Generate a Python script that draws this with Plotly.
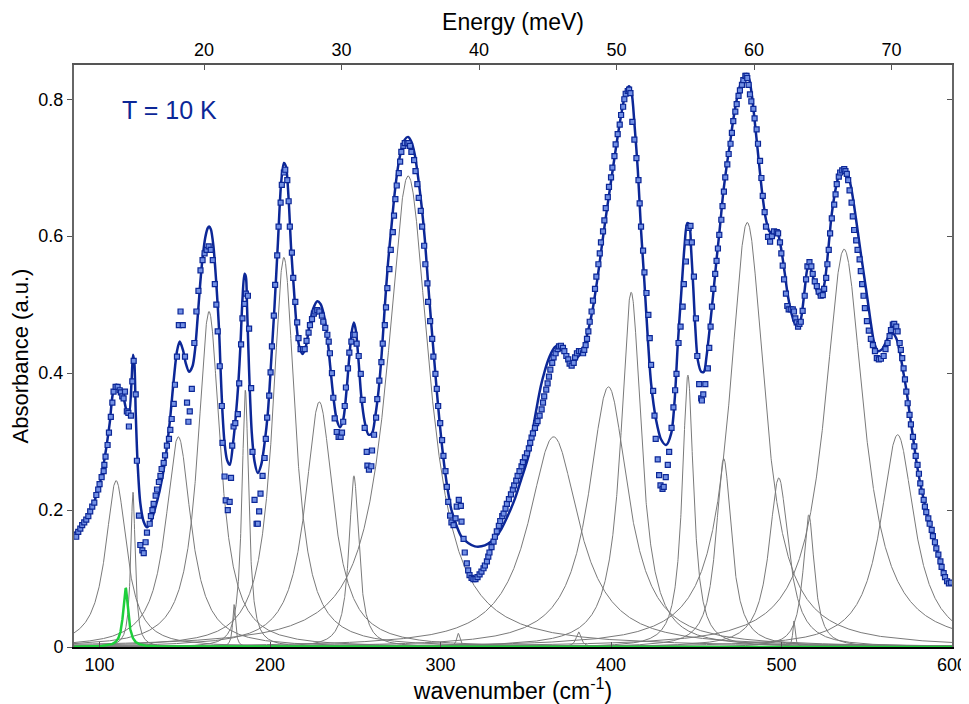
import numpy as np
import plotly.graph_objects as go

MEV_TO_CM = 8.0655

# ---- Lorentz components: centre (cm-1), height, half width (cm-1)
comp_center = [109.7, 119.6, 146.2, 164.2, 178.9, 185.5, 208.1, 228.9, 249.2, 281.0, 310.4,
               366.3, 381.0, 398.5, 411.8, 445.1, 466.1, 479.9, 498.4, 507.3, 516.0, 536.7, 568.1]
comp_height = [0.243, 0.226, 0.307, 0.490, 0.062, 0.375, 0.569, 0.358, 0.250, 0.688, 0.020,
               0.307, 0.022, 0.380, 0.518, 0.397, 0.275, 0.620, 0.247, 0.038, 0.193, 0.581, 0.310]
comp_hwhm = [7.5, 1.6, 9.0, 8.0, 1.0, 2.4, 8.0, 10.0, 3.5, 15.0, 1.2,
             18.0, 1.8, 14.0, 7.3, 4.0, 5.5, 12.5, 7.0, 0.8, 4.0, 14.0, 12.0]
green_center, green_height, green_hwhm = 115.3, 0.086, 1.8

# ---- fit curve
fit_x = [85.0, 88.0, 91.0, 94.0, 97.0, 100.0, 102.0, 104.0, 106.0, 107.8, 109.8, 111.8, 113.7, 115.7,
         117.2, 118.8, 119.6, 120.4, 121.2, 122.3, 123.9, 125.9, 127.8, 129.8, 132.3, 135.3, 138.2,
         141.1, 143.5, 145.4, 147.0, 148.9, 150.5, 152.5, 154.5, 156.0, 157.5, 159.0, 160.5, 162.0,
         163.5, 164.3, 165.3, 166.8, 168.5, 170.1, 170.9, 172.1, 173.3, 174.8, 176.4, 178.3, 179.9,
         181.4, 182.6, 183.8, 185.0, 185.8, 186.5, 187.3, 188.1, 189.3, 190.9, 192.8, 194.8, 196.8,
         198.7, 200.6, 202.6, 204.6, 206.5, 208.1, 209.3, 210.8, 212.4, 214.0, 215.6, 217.1, 219.1,
         221.0, 223.0, 225.3, 227.7, 229.6, 231.6, 233.6, 235.1, 237.1, 239.1, 241.0, 242.9, 244.9,
         246.5, 248.1, 249.2, 250.4, 252.0, 253.5, 255.5, 257.8, 259.8, 261.7, 263.7, 265.5, 267.3,
         269.2, 271.2, 273.1, 275.1, 277.0, 279.0, 281.0, 282.9, 284.9, 286.8, 288.8, 290.8, 292.7,
         294.7, 296.6, 298.6, 300.5, 302.5, 304.5, 306.4, 309.4, 312.3, 316.2, 320.1, 324.0, 328.0,
         331.9, 335.8, 339.7, 343.7, 347.6, 351.5, 353.0, 355.0, 357.0, 359.0, 361.0, 363.0, 365.0,
         367.0, 369.7, 372.6, 375.5, 377.5, 380.4, 383.4, 386.3, 389.2, 392.2, 395.1, 398.1, 401.0,
         403.9, 406.9, 408.8, 410.6, 412.1, 413.7, 415.7, 417.6, 419.6, 421.5, 423.5, 426.4, 429.4,
         432.3, 435.3, 437.3, 439.2, 441.2, 443.1, 444.7, 445.9, 447.0, 448.2, 449.4, 450.9, 452.9,
         454.5, 456.0, 458.0, 460.0, 461.9, 463.9, 465.8, 467.8, 469.8, 471.7, 473.7, 475.6, 477.6,
         479.5, 481.1, 482.7, 484.2, 485.8, 487.4, 488.9, 490.9, 492.9, 494.8, 496.8, 498.3, 499.9,
         501.9, 503.8, 505.8, 507.7, 510.1, 511.7, 513.6, 515.2, 516.4, 517.9, 519.9, 521.8, 523.4,
         525.4, 527.4, 529.3, 531.3, 533.2, 535.2, 536.8, 538.7, 540.7, 542.6, 544.6, 546.5, 548.5,
         550.5, 552.4, 554.4, 556.7, 559.1, 561.0, 563.0, 565.3, 567.3, 569.3, 571.2, 573.2, 575.1,
         577.1, 579.0, 581.0, 583.0, 584.9, 586.9, 588.8, 590.8, 592.8, 594.7, 596.7, 598.6, 600.0]
fit_y = [0.166, 0.172, 0.181, 0.195, 0.213, 0.237, 0.262, 0.292, 0.328, 0.370, 0.383, 0.377, 0.368, 0.346,
         0.339, 0.390, 0.427, 0.415, 0.342, 0.269, 0.210, 0.183, 0.175, 0.181, 0.200, 0.229, 0.268,
         0.327, 0.390, 0.432, 0.446, 0.434, 0.415, 0.402, 0.410, 0.434, 0.480, 0.530, 0.570, 0.598,
         0.612, 0.614, 0.610, 0.585, 0.530, 0.463, 0.410, 0.342, 0.298, 0.273, 0.266, 0.298, 0.337,
         0.385, 0.439, 0.507, 0.545, 0.541, 0.497, 0.434, 0.376, 0.312, 0.271, 0.254, 0.266, 0.298,
         0.342, 0.415, 0.497, 0.590, 0.678, 0.707, 0.702, 0.658, 0.580, 0.522, 0.468, 0.439, 0.428,
         0.439, 0.468, 0.494, 0.505, 0.501, 0.485, 0.453, 0.415, 0.366, 0.332, 0.321, 0.332, 0.376,
         0.424, 0.463, 0.474, 0.461, 0.415, 0.366, 0.329, 0.310, 0.312, 0.337, 0.376, 0.429, 0.497,
         0.561, 0.614, 0.663, 0.702, 0.726, 0.741, 0.745, 0.738, 0.719, 0.687, 0.646, 0.595, 0.531,
         0.468, 0.410, 0.351, 0.302, 0.259, 0.225, 0.200, 0.177, 0.161, 0.152, 0.147, 0.147, 0.151,
         0.159, 0.173, 0.193, 0.217, 0.247, 0.278, 0.300, 0.330, 0.358, 0.383, 0.402, 0.418, 0.430,
         0.438, 0.441, 0.432, 0.415, 0.412, 0.423, 0.434, 0.459, 0.493, 0.541, 0.595, 0.648, 0.697,
         0.746, 0.790, 0.812, 0.819, 0.809, 0.765, 0.697, 0.609, 0.532, 0.454, 0.385, 0.332, 0.303,
         0.295, 0.312, 0.360, 0.444, 0.517, 0.585, 0.619, 0.617, 0.580, 0.527, 0.468, 0.419, 0.402,
         0.402, 0.424, 0.468, 0.517, 0.566, 0.614, 0.663, 0.702, 0.736, 0.770, 0.799, 0.819, 0.831,
         0.837, 0.829, 0.804, 0.770, 0.731, 0.692, 0.658, 0.624, 0.607, 0.605, 0.607, 0.600, 0.580,
         0.546, 0.512, 0.488, 0.473, 0.468, 0.483, 0.522, 0.553, 0.558, 0.546, 0.527, 0.514, 0.514,
         0.534, 0.580, 0.629, 0.663, 0.685, 0.697, 0.700, 0.692, 0.673, 0.644, 0.609, 0.575, 0.541,
         0.507, 0.473, 0.444, 0.432, 0.435, 0.444, 0.454, 0.458, 0.451, 0.432, 0.405, 0.376, 0.342,
         0.307, 0.273, 0.244, 0.220, 0.198, 0.178, 0.161, 0.144, 0.127, 0.112, 0.101, 0.094, 0.093]

data_x = [86.3, 87.5, 88.7, 89.8, 91.0, 92.2, 93.4, 94.5, 95.7, 96.9, 98.1, 99.2, 100.0, 101.2, 102.4,
          102.8, 103.5, 104.7, 105.5, 106.6, 107.5, 108.2, 109.4, 110.6, 111.8, 112.5, 113.3, 114.1,
          114.9, 116.0, 116.9, 117.2, 118.4, 119.2, 120.0, 121.2, 121.9, 123.1, 123.9, 125.1, 125.9,
          127.0, 127.8, 129.4, 130.1, 131.0, 131.7, 132.9, 133.7, 134.8, 135.7, 136.4, 137.6, 138.4,
          139.5, 140.7, 141.5, 142.3, 143.5, 144.2, 145.4, 146.5, 147.5, 148.8, 150.1, 151.3, 152.1,
          152.9, 154.1, 155.6, 156.8, 158.0, 159.2, 160.4, 161.6, 162.8, 164.0, 165.2, 166.4, 167.6,
          168.5, 169.3, 170.5, 171.7, 172.1, 173.3, 174.0, 175.2, 176.3, 177.1, 177.8, 178.6, 179.6,
          181.1, 181.9, 183.0, 183.8, 185.0, 185.8, 187.0, 187.7, 188.9, 189.7, 190.9, 192.1, 192.8,
          193.6, 194.4, 195.6, 196.8, 197.5, 198.3, 199.5, 200.3, 201.1, 202.2, 203.0, 204.2, 205.0,
          206.2, 206.9, 208.1, 208.9, 210.1, 210.9, 211.6, 212.8, 213.6, 214.8, 215.9, 216.7, 217.9,
          219.3, 220.3, 221.4, 222.6, 223.4, 224.6, 225.7, 226.5, 227.7, 228.9, 230.4, 231.2, 232.4,
          233.6, 234.4, 235.1, 236.3, 237.1, 237.9, 239.1, 240.2, 241.4, 242.2, 242.9, 243.8, 244.5,
          245.7, 246.5, 247.7, 248.8, 249.6, 250.8, 252.0, 253.2, 254.3, 255.5, 256.7, 257.1, 258.0,
          259.4, 259.8, 261.0, 262.2, 262.9, 264.1, 265.3, 266.1, 267.3, 268.0, 268.8, 270.0, 270.8,
          272.0, 272.7, 273.5, 274.3, 275.5, 276.3, 277.0, 278.2, 279.0, 280.5, 281.2, 282.1, 282.9,
          284.5, 285.3, 286.4, 287.2, 288.4, 289.2, 290.4, 291.1, 292.3, 292.7, 293.9, 295.1, 295.8,
          297.0, 297.8, 298.6, 299.8, 300.9, 301.7, 302.9, 303.7, 304.5, 305.6, 306.4, 307.6, 308.8,
          309.5, 310.7, 311.9, 312.3, 313.5, 314.2, 315.4, 316.2, 317.0, 318.2, 319.3, 320.5, 321.7,
          322.9, 324.0, 325.2, 326.0, 327.2, 328.0, 328.7, 329.9, 331.1, 331.9, 333.0, 334.2, 335.0,
          336.2, 337.0, 338.1, 338.9, 340.1, 341.3, 342.4, 343.2, 344.4, 345.2, 346.3, 347.5, 348.3,
          349.5, 350.7, 351.8, 352.6, 353.4, 354.2, 355.4, 356.1, 356.9, 358.1, 359.3, 360.1, 360.8,
          362.0, 362.8, 363.6, 364.4, 365.5, 366.3, 367.5, 368.7, 369.5, 370.6, 371.8, 372.6, 373.8,
          374.9, 375.7, 376.9, 378.1, 378.9, 380.0, 381.2, 382.4, 383.6, 384.3, 385.1, 385.9, 386.7,
          387.5, 388.6, 389.4, 390.6, 391.4, 392.6, 393.4, 394.1, 395.3, 396.1, 396.9, 398.1, 398.8,
          400.0, 400.8, 402.0, 402.7, 403.9, 405.1, 405.9, 407.1, 407.8, 408.6, 409.8, 410.6, 411.4,
          412.5, 413.7, 414.9, 416.1, 416.8, 417.6, 418.8, 419.6, 420.8, 421.9, 422.7, 423.5, 424.7,
          425.5, 426.2, 427.4, 428.2, 429.0, 430.2, 430.9, 432.1, 433.3, 434.1, 435.5, 436.6, 437.6,
          438.4, 439.6, 440.8, 442.0, 442.7, 443.9, 444.7, 445.5, 446.6, 447.4, 448.6, 449.8, 450.6,
          451.7, 452.9, 453.3, 454.1, 455.3, 456.8, 457.6, 458.4, 459.2, 460.0, 461.1, 461.9, 462.7,
          463.5, 464.7, 465.4, 466.2, 467.0, 468.2, 469.0, 470.1, 470.9, 471.7, 472.9, 473.7, 474.8,
          475.6, 476.8, 477.6, 478.8, 479.5, 479.9, 480.7, 481.5, 482.3, 483.5, 484.2, 485.4, 486.2,
          487.4, 488.2, 489.0, 490.1, 490.9, 492.1, 493.3, 494.4, 495.6, 497.2, 498.0, 499.1, 499.9,
          500.7, 501.5, 502.6, 503.4, 504.2, 505.4, 506.6, 507.3, 508.1, 508.9, 509.7, 510.5, 511.3,
          512.4, 513.6, 514.4, 515.2, 516.4, 517.5, 518.3, 519.5, 520.7, 521.8, 523.0, 524.2, 525.0,
          526.2, 526.9, 527.7, 528.5, 529.5, 530.9, 531.7, 532.4, 533.6, 534.4, 535.6, 536.8, 537.5,
          538.3, 539.1, 539.9, 541.1, 541.8, 542.6, 543.8, 544.6, 545.8, 546.5, 547.3, 548.1, 548.9,
          550.1, 551.2, 552.4, 553.6, 554.8, 555.9, 557.1, 558.3, 559.9, 561.0, 562.2, 563.4, 564.2,
          565.3, 566.1, 567.3, 568.1, 569.3, 570.0, 570.8, 571.6, 572.4, 573.2, 574.0, 575.1, 575.9,
          577.1, 577.9, 578.7, 579.8, 580.6, 581.4, 582.2, 583.4, 584.1, 584.9, 586.1, 586.9, 588.1,
          588.8, 590.0, 590.8, 592.0, 593.2, 593.9, 595.1, 595.9, 597.1, 598.2, 599.4]
data_y = [0.161, 0.168, 0.173, 0.178, 0.182, 0.186, 0.191, 0.198, 0.205, 0.211, 0.222, 0.230, 0.238, 0.248, 0.257,
          0.266, 0.278, 0.295, 0.313, 0.336, 0.357, 0.373, 0.380, 0.380, 0.375, 0.372, 0.366, 0.363,
          0.373, 0.344, 0.342, 0.322, 0.338, 0.388, 0.418, 0.369, 0.272, 0.192, 0.149, 0.141, 0.137,
          0.153, 0.167, 0.180, 0.191, 0.200, 0.209, 0.221, 0.230, 0.241, 0.250, 0.260, 0.269, 0.280,
          0.294, 0.304, 0.317, 0.333, 0.355, 0.383, 0.424, 0.470, 0.490, 0.470, 0.424, 0.357, 0.329,
          0.344, 0.377, 0.444, 0.490, 0.520, 0.550, 0.565, 0.575, 0.580, 0.585, 0.580, 0.565, 0.530,
          0.500, 0.461, 0.410, 0.352, 0.298, 0.249, 0.214, 0.200, 0.212, 0.247, 0.294, 0.322, 0.327,
          0.340, 0.385, 0.442, 0.480, 0.501, 0.516, 0.513, 0.465, 0.378, 0.285, 0.215, 0.180, 0.180,
          0.198, 0.224, 0.250, 0.276, 0.304, 0.335, 0.367, 0.401, 0.439, 0.484, 0.529, 0.572, 0.614,
          0.649, 0.675, 0.693, 0.697, 0.682, 0.651, 0.614, 0.576, 0.539, 0.504, 0.474, 0.451, 0.435,
          0.435, 0.435, 0.447, 0.459, 0.470, 0.479, 0.487, 0.490, 0.492, 0.490, 0.484, 0.475, 0.466,
          0.456, 0.446, 0.429, 0.400, 0.364, 0.334, 0.314, 0.307, 0.307, 0.313, 0.329, 0.352, 0.379,
          0.407, 0.430, 0.446, 0.456, 0.456, 0.443, 0.425, 0.399, 0.361, 0.320, 0.285, 0.265, 0.259,
          0.264, 0.287, 0.310, 0.335, 0.362, 0.389, 0.416, 0.443, 0.470, 0.496, 0.524, 0.552, 0.580,
          0.606, 0.630, 0.654, 0.674, 0.692, 0.709, 0.723, 0.732, 0.736, 0.736, 0.736, 0.732, 0.723,
          0.711, 0.695, 0.676, 0.656, 0.637, 0.614, 0.586, 0.559, 0.531, 0.504, 0.476, 0.450, 0.424,
          0.399, 0.377, 0.352, 0.327, 0.302, 0.279, 0.257, 0.234, 0.212, 0.192, 0.182, 0.178, 0.188,
          0.205, 0.215, 0.206, 0.183, 0.158, 0.138, 0.122, 0.112, 0.105, 0.101, 0.099, 0.099, 0.102,
          0.106, 0.110, 0.115, 0.119, 0.125, 0.132, 0.138, 0.146, 0.154, 0.161, 0.169, 0.177, 0.184,
          0.191, 0.195, 0.202, 0.209, 0.216, 0.223, 0.230, 0.236, 0.243, 0.250, 0.257, 0.264, 0.270,
          0.277, 0.283, 0.290, 0.298, 0.306, 0.312, 0.320, 0.327, 0.330, 0.338, 0.347, 0.357, 0.366,
          0.376, 0.385, 0.395, 0.405, 0.415, 0.423, 0.429, 0.435, 0.439, 0.440, 0.437, 0.432, 0.425,
          0.420, 0.414, 0.411, 0.415, 0.423, 0.429, 0.432, 0.432, 0.429, 0.434, 0.441, 0.450, 0.461,
          0.475, 0.490, 0.506, 0.523, 0.541, 0.559, 0.575, 0.591, 0.607, 0.623, 0.641, 0.657, 0.672,
          0.686, 0.700, 0.717, 0.734, 0.749, 0.763, 0.777, 0.789, 0.800, 0.808, 0.812, 0.814, 0.809,
          0.767, 0.741, 0.714, 0.682, 0.648, 0.614, 0.579, 0.547, 0.517, 0.485, 0.451, 0.412, 0.374,
          0.338, 0.304, 0.274, 0.251, 0.236, 0.231, 0.234, 0.248, 0.266, 0.285, 0.320, 0.350, 0.375,
          0.399, 0.444, 0.468, 0.497, 0.530, 0.563, 0.591, 0.612, 0.615, 0.591, 0.541, 0.480, 0.425,
          0.384, 0.363, 0.360, 0.369, 0.384, 0.407, 0.437, 0.468, 0.497, 0.523, 0.545, 0.564, 0.582,
          0.602, 0.624, 0.644, 0.665, 0.686, 0.705, 0.720, 0.735, 0.751, 0.768, 0.782, 0.793, 0.805,
          0.813, 0.821, 0.828, 0.834, 0.834, 0.831, 0.821, 0.807, 0.797, 0.786, 0.772, 0.756, 0.735,
          0.710, 0.685, 0.659, 0.635, 0.614, 0.599, 0.592, 0.600, 0.607, 0.606, 0.604, 0.591, 0.575,
          0.557, 0.537, 0.516, 0.498, 0.493, 0.493, 0.493, 0.490, 0.480, 0.474, 0.468, 0.472, 0.475,
          0.491, 0.513, 0.537, 0.556, 0.562, 0.556, 0.545, 0.534, 0.527, 0.519, 0.513, 0.514, 0.523,
          0.539, 0.559, 0.580, 0.604, 0.626, 0.646, 0.661, 0.676, 0.687, 0.693, 0.696, 0.698, 0.695,
          0.691, 0.682, 0.667, 0.649, 0.629, 0.609, 0.594, 0.580, 0.566, 0.549, 0.530, 0.513, 0.495,
          0.476, 0.462, 0.450, 0.441, 0.432, 0.422, 0.420, 0.421, 0.425, 0.435, 0.444, 0.454, 0.463,
          0.471, 0.472, 0.468, 0.461, 0.444, 0.434, 0.422, 0.407, 0.391, 0.373, 0.356, 0.339, 0.325,
          0.307, 0.293, 0.279, 0.266, 0.253, 0.239, 0.227, 0.215, 0.205, 0.197, 0.188, 0.180, 0.171,
          0.162, 0.153, 0.144, 0.135, 0.125, 0.117, 0.108, 0.102, 0.096, 0.093, 0.094]

x_ticks = [100, 200, 300, 400, 500, 600]
e_ticks = [20, 30, 40, 50, 60, 70]
y_ticks = [0, 0.2, 0.4, 0.6, 0.8]
y_ticktext = ["0", "0.2", "0.4", "0.6", "0.8"]

X_RANGE = [85, 600]
Y_RANGE = [0, 0.85]

FONT = "Liberation Sans, Arial, Helvetica, sans-serif"
DARK_BLUE = "#0c2797"
MARKER_FILL = "#7290e4"
GREY = "#7a7a7a"
GREEN = "#1ecf3c"

grid = np.arange(X_RANGE[0], X_RANGE[1] + 0.001, 0.1)


def lorentz(x, c, h, g):
    return h / (1.0 + ((x - c) / g) ** 2)


fig = go.Figure()

for c, h, g in zip(comp_center, comp_height, comp_hwhm):
    fig.add_trace(go.Scatter(x=grid, y=lorentz(grid, c, h, g), mode="lines",
                             line=dict(color=GREY, width=1), hoverinfo="skip"))

fig.add_trace(go.Scatter(x=grid, y=lorentz(grid, green_center, green_height, green_hwhm),
                         mode="lines", line=dict(color=GREEN, width=2.5), hoverinfo="skip"))

fig.add_trace(go.Scatter(x=fit_x, y=fit_y, mode="lines",
                         line=dict(color=DARK_BLUE, width=2.5, shape="spline", smoothing=0.8)))

fig.add_trace(go.Scatter(x=data_x, y=data_y, mode="markers",
                         marker=dict(symbol="square", size=5, color=MARKER_FILL,
                                     line=dict(color=DARK_BLUE, width=1.2))))

# helper traces for the secondary (energy / mirrored) axes
fig.add_trace(go.Scatter(x=[X_RANGE[0] / MEV_TO_CM, X_RANGE[1] / MEV_TO_CM], y=[0, 0],
                         xaxis="x2", yaxis="y", mode="lines", line=dict(width=0),
                         hoverinfo="skip", opacity=0))
fig.add_trace(go.Scatter(x=X_RANGE, y=[0, 0], xaxis="x", yaxis="y2", mode="lines",
                         line=dict(width=0), hoverinfo="skip", opacity=0))

# the page body adds an 8 px offset, so the figure is 8 px smaller than the window
fig.update_layout(
    width=961, height=696,
    margin=dict(l=66, r=17, t=57, b=57),
    paper_bgcolor="white", plot_bgcolor="white",
    showlegend=False,
    font=dict(family=FONT, color="black", size=18),
    xaxis=dict(range=X_RANGE, tickvals=x_ticks, ticks="inside", ticklen=5, tickwidth=1,
               tickcolor="#555", showline=True, linecolor="black", linewidth=2,
               showgrid=False, zeroline=False, tickfont=dict(size=18), automargin=False,
               title=dict(text="wavenumber (cm<sup>-1</sup>)", font=dict(size=23), standoff=2)),
    xaxis2=dict(range=[X_RANGE[0] / MEV_TO_CM, X_RANGE[1] / MEV_TO_CM], overlaying="x",
                side="top", tickvals=e_ticks, ticks="inside", ticklen=5, tickwidth=1,
                tickcolor="#555", showline=True, linecolor="#555", linewidth=1.5,
                showgrid=False, zeroline=False, tickfont=dict(size=18), automargin=False,
                title=dict(text="Energy (meV)", font=dict(size=23), standoff=3)),
    yaxis=dict(range=Y_RANGE, tickvals=y_ticks, ticktext=y_ticktext, ticks="outside",
               ticklen=5, tickwidth=1, tickcolor="#555", showline=True, linecolor="#666",
               linewidth=2, showgrid=False, zeroline=False, tickfont=dict(size=18),
               automargin=False,
               title=dict(text="Absorbance (a.u.)", font=dict(size=22), standoff=4)),
    yaxis2=dict(range=Y_RANGE, overlaying="y", side="right", tickvals=y_ticks,
                ticks="inside", ticklen=5, tickwidth=1, tickcolor="#555",
                showticklabels=False, showline=True, linecolor="#666", linewidth=1.5,
                showgrid=False, zeroline=False, automargin=False),
    annotations=[dict(x=141, y=0.785, xref="x", yref="y", text="T = 10 K", showarrow=False,
                      font=dict(size=25, color=DARK_BLUE, family=FONT))],
)

fig.write_html("out.html")
